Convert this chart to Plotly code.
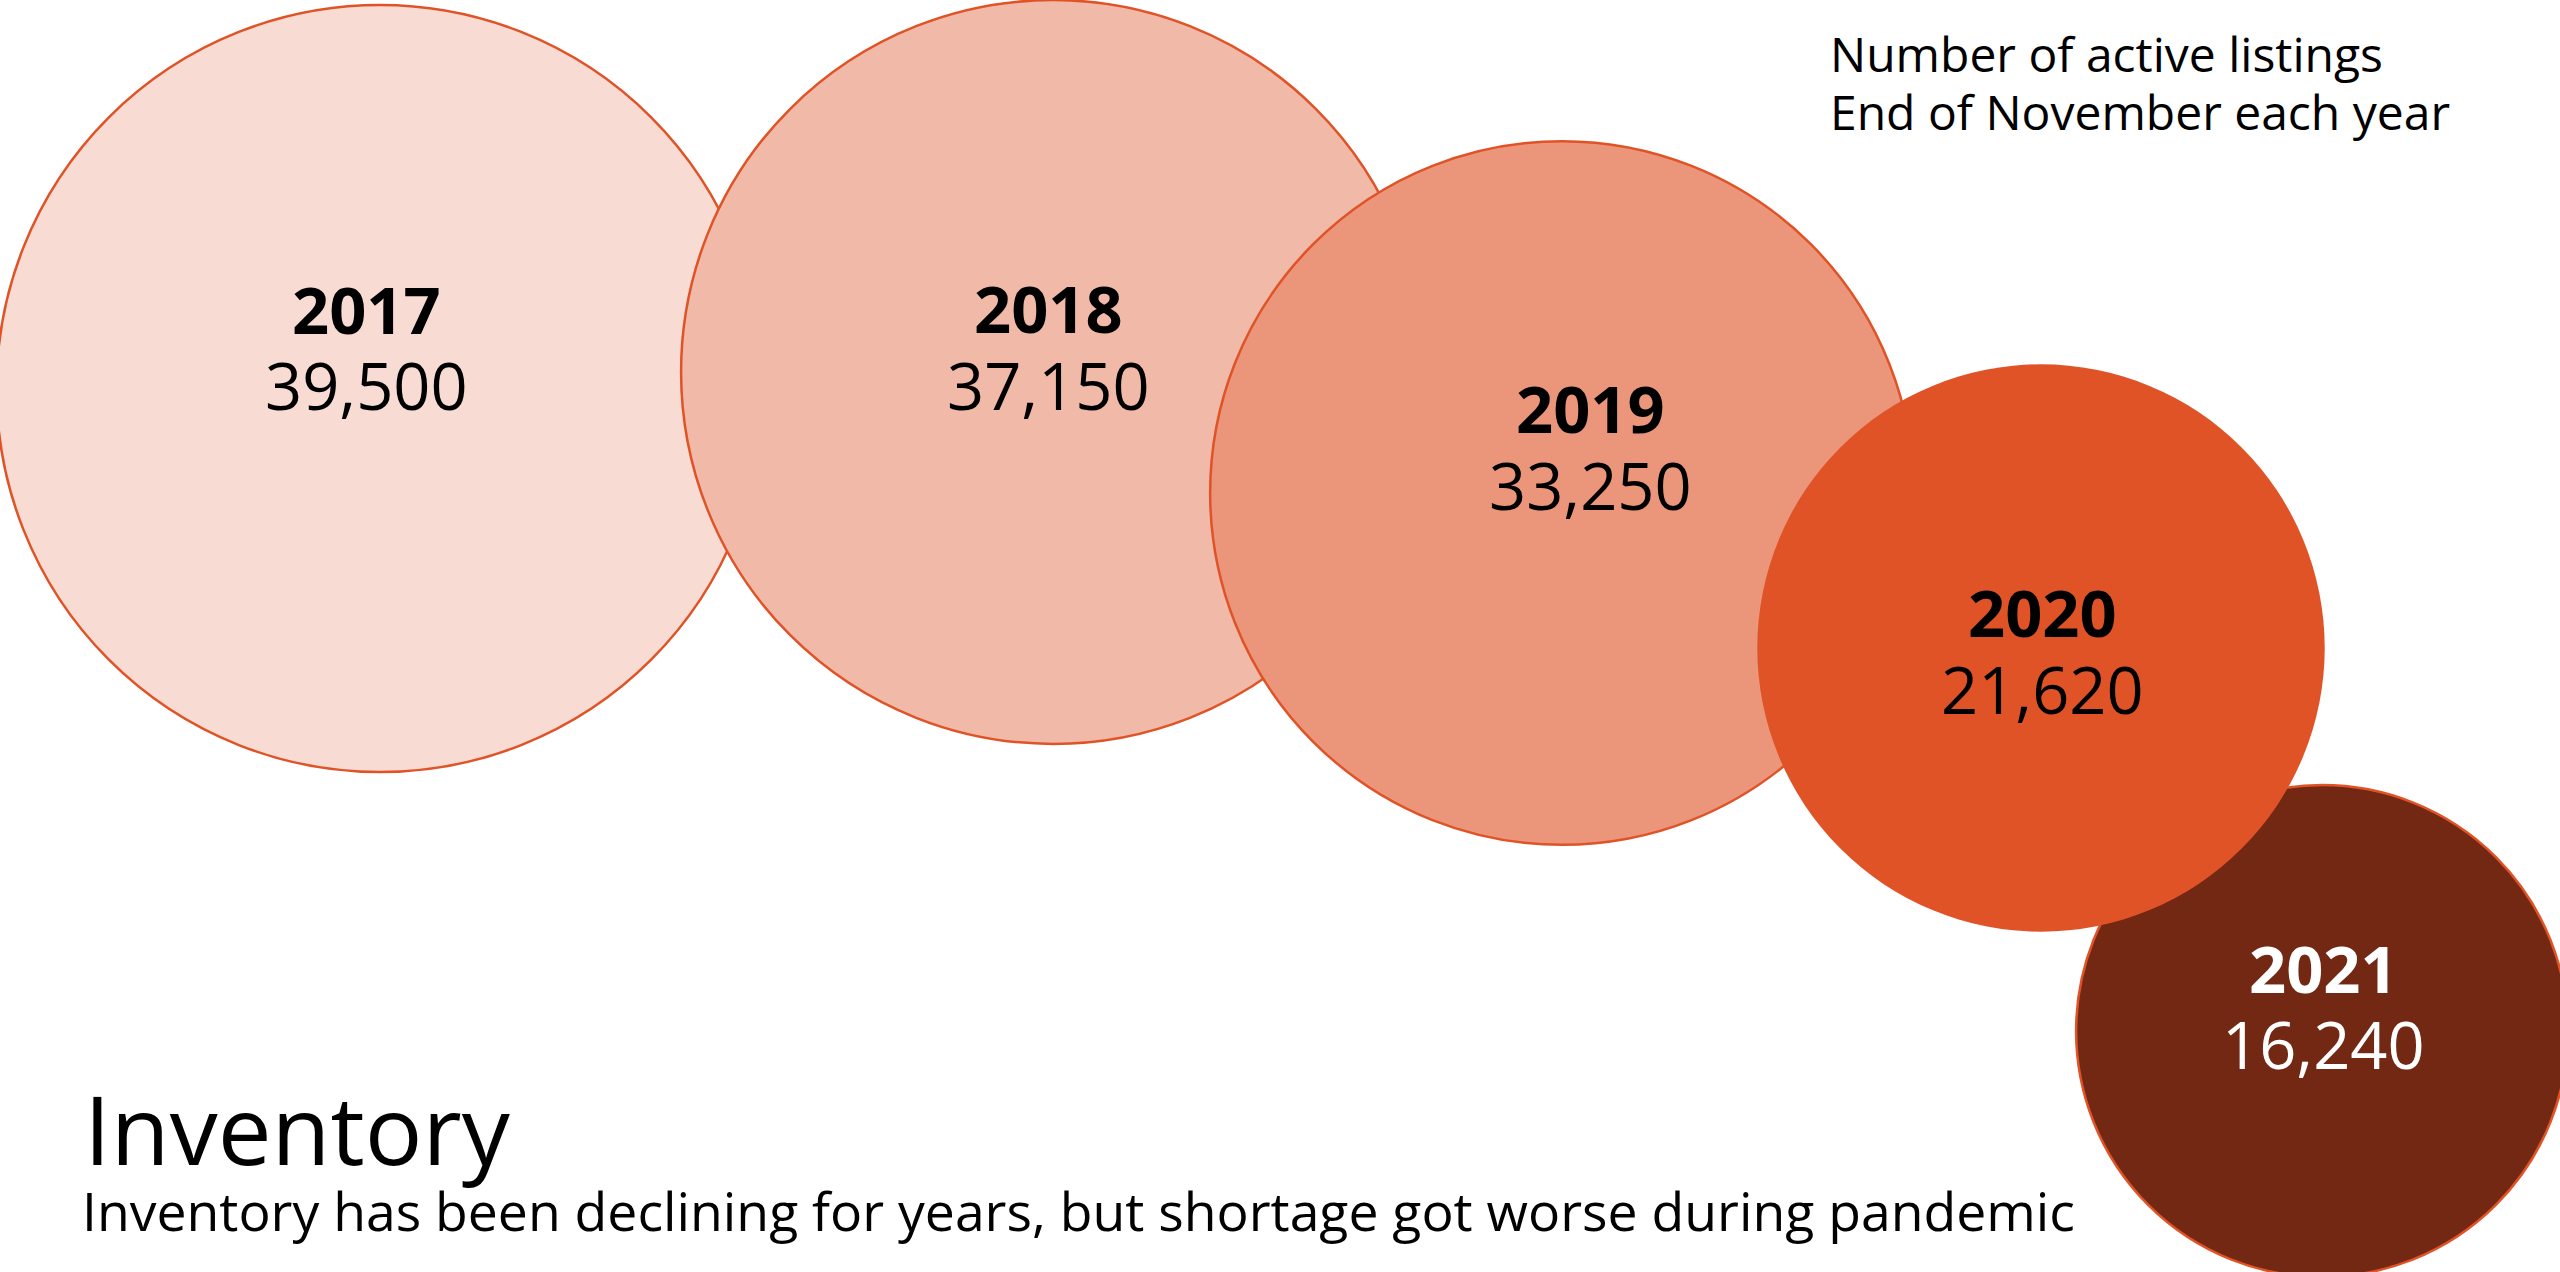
import plotly.graph_objects as go

# ---- data ----
years = ["2017", "2018", "2019", "2020", "2021"]
listings = [39500, 37150, 33250, 21620, 16240]
value_labels = ["39,500", "37,150", "33,250", "21,620", "16,240"]

# ---- styling / layout (pixel-like layout space, y downward) ----
fill_colors = ["#f8dbd3", "#f1b9a8", "#eb967b", "#e05327", "#732813"]
line_colors = ["#e05327", "#e05327", "#e05327", "#e05327", "#e05327"]
line_widths = [2.5, 2.5, 2.5, 0, 2.5]
label_colors = ["#000000", "#000000", "#000000", "#000000", "#ffffff"]
bubble_cx = [380, 1053, 1562, 2041, 2322]
bubble_cy = [388.5, 372, 493, 648, 1031]
label_x = [366, 1048, 1590, 2042, 2323]
year_label_y = [308.5, 308, 407.5, 612, 967.5]
value_label_y = [385, 385, 484.5, 689, 1044]
draw_order = [0, 1, 2, 4, 3]

W, H = 2560, 1272
largest_diameter = 767
# plotly 'area' mode: diameter = sqrt(2 * size / sizeref)
sizeref = 2.0 * max(listings) / largest_diameter ** 2

FONT = "Open Sans"

fig = go.Figure()
fig.add_trace(go.Scatter(
    x=[bubble_cx[i] for i in draw_order],
    y=[bubble_cy[i] for i in draw_order],
    mode="markers",
    marker=dict(
        size=[listings[i] for i in draw_order],
        sizemode="area",
        sizeref=sizeref,
        color=[fill_colors[i] for i in draw_order],
        opacity=1,
        line=dict(color=[line_colors[i] for i in draw_order],
                  width=[line_widths[i] for i in draw_order]),
    ),
    hoverinfo="skip",
    showlegend=False,
))

annotations = []
for i, yr in enumerate(years):
    annotations.append(dict(
        x=label_x[i], y=year_label_y[i], xref="x", yref="y",
        text=f"<b>{yr}</b>", showarrow=False, xanchor="center", yanchor="middle",
        font=dict(family=FONT, size=65, color=label_colors[i]),
    ))
    annotations.append(dict(
        x=label_x[i], y=value_label_y[i], xref="x", yref="y",
        text=value_labels[i], showarrow=False, xanchor="center", yanchor="middle",
        font=dict(family=FONT, size=65, color=label_colors[i]),
    ))

# note lines (top right)
note_lines = ["Number of active listings", "End of November each year"]
note_y = [53.6, 111.5]
for t, yy in zip(note_lines, note_y):
    annotations.append(dict(
        x=1828, y=yy, xref="x", yref="y", text=t, showarrow=False,
        xanchor="left", yanchor="middle",
        font=dict(family=FONT, size=48, color="#000000"),
    ))

# title and subtitle (bottom left)
annotations.append(dict(
    x=82, y=1127, xref="x", yref="y", text="Inventory", showarrow=False,
    xanchor="left", yanchor="middle",
    font=dict(family=FONT, size=96, color="#000000"),
))
annotations.append(dict(
    x=80, y=1210.5, xref="x", yref="y",
    text="Inventory has been declining for years, but shortage got worse during pandemic",
    showarrow=False, xanchor="left", yanchor="middle",
    font=dict(family=FONT, size=53.5, color="#000000"),
))

fig.update_layout(
    width=W, height=H,
    margin=dict(l=0, r=0, t=0, b=0),
    paper_bgcolor="#ffffff", plot_bgcolor="#ffffff",
    xaxis=dict(range=[0, W], visible=False, fixedrange=True),
    yaxis=dict(range=[H, 0], visible=False, fixedrange=True),
    annotations=annotations,
    font=dict(family=FONT),
    hovermode=False,
)

fig.write_html("out.html", config={"displayModeBar": False},
               post_script="document.body.style.margin='0';document.body.style.overflow='hidden';")
